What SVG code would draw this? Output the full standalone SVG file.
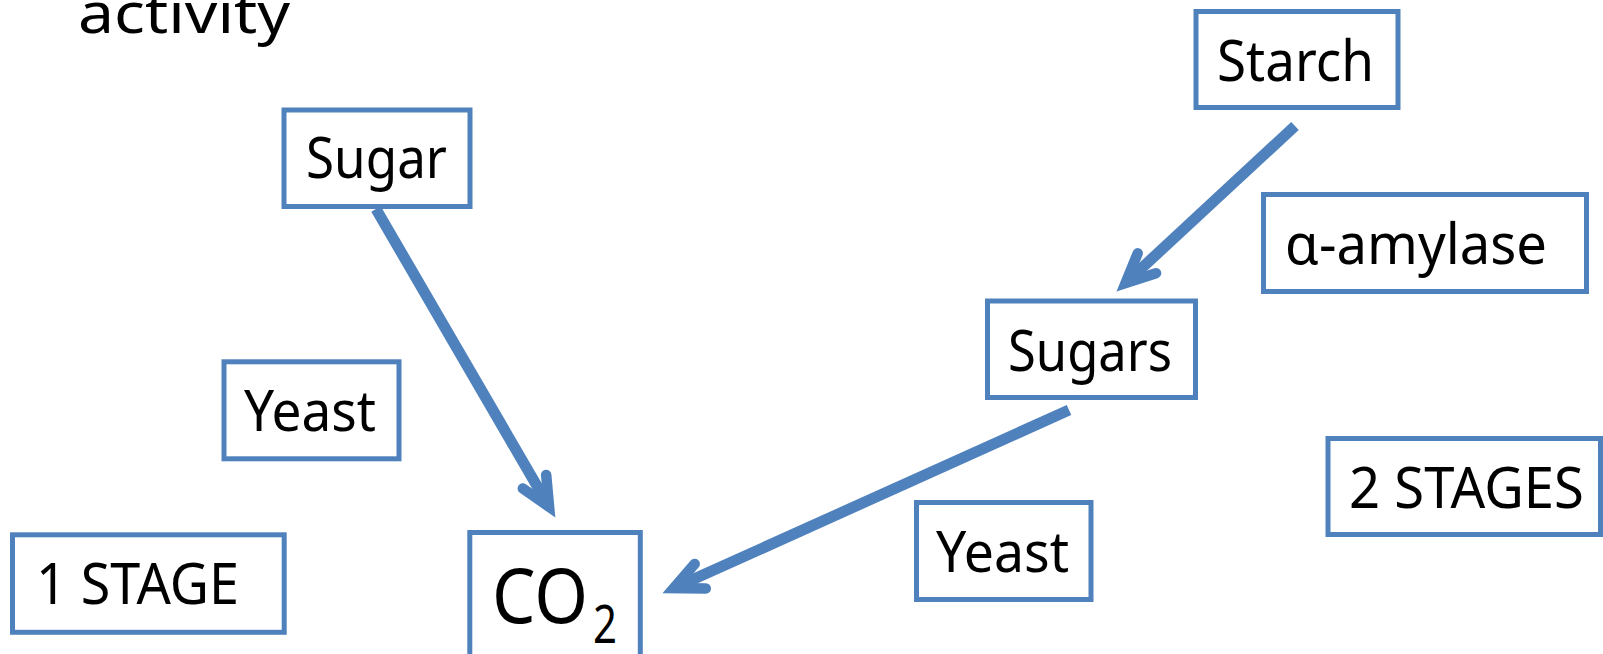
<svg xmlns="http://www.w3.org/2000/svg" width="1603" height="654" viewBox="0 0 1603 654">
<style>
.box{fill:#ffffff;stroke:#4F81BD;stroke-width:5}
.t{font-family:"Noto Sans","Open Sans",sans-serif;font-size:56px;fill:#000000}
.big{font-size:76px}
.sub{font-size:53px}
.conn{fill:none;stroke:#4F81BD;stroke-width:11;stroke-linecap:butt}
</style>
<defs>
<marker id="arr" markerUnits="userSpaceOnUse" viewBox="-40 -25 50 50" markerWidth="50" markerHeight="50" refX="0" refY="0" orient="auto" overflow="visible">
<path d="M-29,-13.5 L0,0 L-29,13.5" fill="none" stroke="#4F81BD" stroke-width="10.5" stroke-linecap="round" stroke-linejoin="miter"/>
</marker>
</defs>
<rect width="1603" height="654" fill="#ffffff"/>
<text class="t" x="78" y="33" textLength="212" lengthAdjust="spacingAndGlyphs">activity</text>
<g id="connectors">
<line class="conn" x1="376" y1="209" x2="549.1" y2="506.8" marker-end="url(#arr)"/>
<line class="conn" x1="1295" y1="126" x2="1125.6" y2="283" marker-end="url(#arr)"/>
<line class="conn" x1="1069" y1="410" x2="673.8" y2="588.1" marker-end="url(#arr)"/>
</g>
<g id="node-sugar">
<rect class="box" x="284" y="110" width="186" height="96.5"/>
<text class="t" x="306" y="178" textLength="141" lengthAdjust="spacingAndGlyphs">Sugar</text>
</g>
<g id="node-starch">
<rect class="box" x="1196" y="11.5" width="202" height="96"/>
<text class="t" x="1217" y="81" textLength="157" lengthAdjust="spacingAndGlyphs">Starch</text>
</g>
<g id="node-amylase">
<rect class="box" x="1263.5" y="194.5" width="323" height="97"/>
<text class="t" x="1285" y="264" textLength="262" lengthAdjust="spacingAndGlyphs">α-amylase</text>
</g>
<g id="node-sugars">
<rect class="box" x="987.5" y="301" width="208" height="96.5"/>
<text class="t" x="1008" y="371" textLength="164" lengthAdjust="spacingAndGlyphs">Sugars</text>
</g>
<g id="node-2stages">
<rect class="box" x="1328" y="438.5" width="272.5" height="96"/>
<text class="t" x="1349" y="508" textLength="235" lengthAdjust="spacingAndGlyphs">2 STAGES</text>
</g>
<g id="node-yeast-right">
<rect class="box" x="916.5" y="502.5" width="174.5" height="97"/>
<text class="t" x="936" y="572" textLength="133" lengthAdjust="spacingAndGlyphs">Yeast</text>
</g>
<g id="node-yeast-left">
<rect class="box" x="224" y="361.8" width="175" height="97"/>
<text class="t" x="244" y="431" textLength="132" lengthAdjust="spacingAndGlyphs">Yeast</text>
</g>
<g id="node-1stage">
<rect class="box" x="12.5" y="534.8" width="271.7" height="97.5"/>
<text class="t" x="36" y="604" textLength="203" lengthAdjust="spacingAndGlyphs">1 STAGE</text>
</g>
<g id="node-co2">
<rect class="box" x="469.8" y="532.5" width="170.5" height="140"/>
<text class="t big" x="492" y="623" textLength="96" lengthAdjust="spacingAndGlyphs">CO</text>
<text class="t sub" x="593" y="643" textLength="24" lengthAdjust="spacingAndGlyphs">2</text>
</g>
</svg>
